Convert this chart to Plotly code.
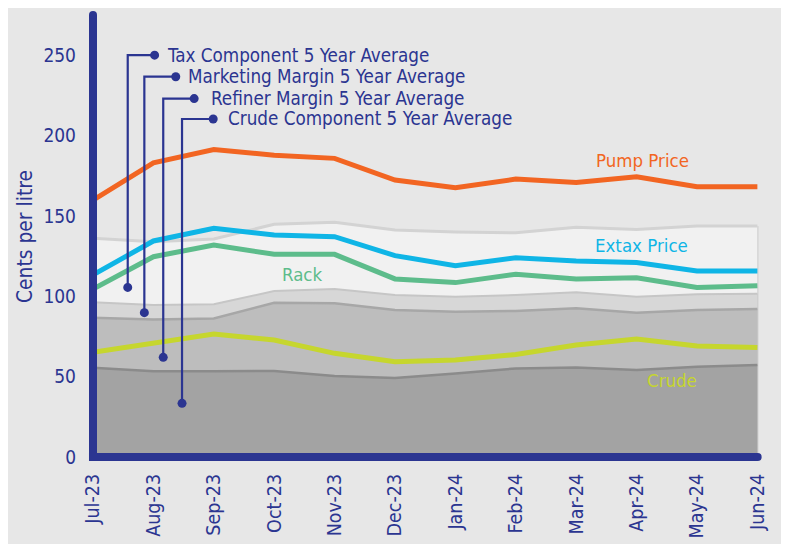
import plotly.graph_objects as go

months = ["Jul-23", "Aug-23", "Sep-23", "Oct-23", "Nov-23", "Dec-23",
          "Jan-24", "Feb-24", "Mar-24", "Apr-24", "May-24", "Jun-24"]

# 5-year average components (stacked, cents per litre)
crude_avg = [55.6, 53.3, 53.3, 53.5, 50.4, 49.1, 52.0, 55.1, 55.7, 54.1, 56.2, 57.2]
refiner_avg = [31.0, 32.3, 32.9, 42.5, 45.2, 42.4, 38.4, 35.8, 36.8, 35.7, 35.3, 34.9]
marketing_avg = [9.7, 9.0, 8.8, 7.3, 8.9, 9.3, 9.3, 9.9, 10.0, 9.9, 9.7, 9.5]
tax_avg = [39.8, 39.4, 40.7, 41.5, 41.5, 40.5, 40.3, 38.7, 40.4, 41.9, 42.5, 42.1]

# monthly price lines (cents per litre)
pump = [159.8, 183.0, 191.3, 187.8, 185.8, 172.3, 167.6, 172.9, 170.8, 174.3, 168.2, 168.2]
extax = [113.3, 134.4, 142.3, 138.1, 137.1, 125.3, 119.0, 124.0, 122.0, 121.0, 115.7, 115.7]
rack = [104.5, 124.6, 131.9, 126.1, 126.1, 110.8, 108.5, 113.7, 110.8, 111.5, 105.4, 106.6]
crude = [65.1, 70.7, 76.5, 72.8, 64.5, 59.3, 60.3, 63.8, 69.7, 73.4, 69.0, 68.2]

y_ticks = [0, 50, 100, 150, 200, 250]

NAVY = "#2b3591"
FONT = "DejaVu Sans Condensed, DejaVu Sans, sans-serif"
xs = list(range(len(months)))

fig = go.Figure()

bands = [
    ("Crude Component 5 Year Average", crude_avg, "#a3a3a3", "#8b8b8b", 2.5),
    ("Refiner Margin 5 Year Average", refiner_avg, "#bdbdbd", "#a7a7a7", 2.5),
    ("Marketing Margin 5 Year Average", marketing_avg, "#d7d7d7", "#c6c6c6", 2),
    ("Tax Component 5 Year Average", tax_avg, "#f1f1f1", "#d3d3d3", 3),
]
for name, vals, fillc, linec, lw in bands:
    fig.add_trace(go.Scatter(x=xs, y=vals, name=name, stackgroup="avg", mode="lines",
                             fillcolor=fillc, line=dict(color=linec, width=lw),
                             hoverinfo="skip"))

lines = [
    ("Crude", crude, "#c6d62e"),
    ("Rack", rack, "#5dbc8b"),
    ("Extax Price", extax, "#0fb5e6"),
    ("Pump Price", pump, "#f26522"),
]
for name, vals, col in lines:
    fig.add_trace(go.Scatter(x=xs, y=vals, name=name, mode="lines",
                             line=dict(color=col, width=5)))

shapes = []
annotations = []

# right edge of the stacked bands
band_top_last = crude_avg[-1] + refiner_avg[-1] + marketing_avg[-1] + tax_avg[-1]
shapes.append(dict(type="line", xref="x", yref="y", x0=xs[-1], x1=xs[-1], y0=0,
                   y1=band_top_last, line=dict(color="#cacaca", width=2), layer="below"))

# leader lines for the 5-year average labels
leaders = [
    ("Tax Component 5 Year Average", 0.575, 105.5, 1.02, 250.0, 1.2),
    ("Marketing Margin 5 Year Average", 0.85, 89.8, 1.37, 236.6, 1.545),
    ("Refiner Margin 5 Year Average", 1.163, 62.0, 1.675, 223.0, 1.915),
    ("Crude Component 5 Year Average", 1.474, 33.4, 1.99, 210.3, 2.205),
]
for text, vx, ybot, dx, ytop, tx in leaders:
    shapes.append(dict(type="path", xref="x", yref="y",
                       path=f"M {vx},{ybot} L {vx},{ytop} L {dx},{ytop}",
                       line=dict(color=NAVY, width=2.2), layer="above"))
    for cx, cy in [(vx, ybot), (dx, ytop)]:
        shapes.append(dict(type="circle", xref="x", yref="y",
                           xsizemode="pixel", ysizemode="pixel",
                           xanchor=cx, yanchor=cy, x0=-4.5, x1=4.5, y0=-4.5, y1=4.5,
                           fillcolor=NAVY, line=dict(width=0), layer="above"))
    annotations.append(dict(x=tx, y=ytop, xref="x", yref="y", text=text,
                            showarrow=False, xanchor="left", yanchor="middle",
                            font=dict(family=FONT, size=18.7, color=NAVY)))

# series labels
for text, x, y, col in [("Pump Price", 9.09, 184.4, "#f26522"),
                        ("Extax Price", 9.08, 131.3, "#0fb5e6"),
                        ("Rack", 3.47, 113.3, "#5dbc8b"),
                        ("Crude", 9.59, 47.3, "#c6d62e")]:
    annotations.append(dict(x=x, y=y, xref="x", yref="y", text=text, showarrow=False,
                            xanchor="center", yanchor="middle",
                            font=dict(family=FONT, size=18.5, color=col)))

annotations.append(dict(x=-0.1018, y=0.5, xref="paper", yref="paper",
                        text="Cents per litre", textangle=-90, showarrow=False,
                        xanchor="center", yanchor="middle",
                        font=dict(family=FONT, size=20.8, color=NAVY)))

# axis lines (thick navy with rounded ends)
shapes.append(dict(type="line", xref="paper", yref="paper", x0=-0.006, x1=0.995,
                   y0=0, y1=0, line=dict(color=NAVY, width=8), layer="above"))
shapes.append(dict(type="line", xref="paper", yref="paper", x0=0, x1=0,
                   y0=-0.009, y1=1.0, line=dict(color=NAVY, width=8), layer="above"))
for ax_, ay_ in [(0.995, 0.0), (0.0, 1.0)]:
    shapes.append(dict(type="circle", xref="paper", yref="paper",
                       xsizemode="pixel", ysizemode="pixel",
                       xanchor=ax_, yanchor=ay_, x0=-4, x1=4, y0=-4, y1=4,
                       fillcolor=NAVY, line=dict(width=0), layer="above"))

# white page edge on the right
shapes.append(dict(type="rect", xref="paper", yref="paper", x0=1.0329, x1=1.06,
                   y0=-0.25, y1=1.05, fillcolor="white", line=dict(width=0), layer="below"))

fig.update_layout(
    width=781, height=536,
    margin=dict(l=85, r=28, t=7, b=87),
    paper_bgcolor="#e7e7e7", plot_bgcolor="#e7e7e7",
    showlegend=False,
    shapes=shapes, annotations=annotations,
    xaxis=dict(range=[0, 11.06], tickvals=xs, ticktext=months, tickangle=-90,
               showgrid=False, zeroline=False, showline=False, ticks="",
               ticklabelstandoff=12,
               tickfont=dict(family=FONT, size=19.5, color=NAVY)),
    yaxis=dict(range=[0, 275], tickvals=y_ticks, showgrid=False, zeroline=False,
               showline=False, ticks="", ticklabelstandoff=16,
               tickfont=dict(family=FONT, size=19, color=NAVY)),
)

fig.write_html("out.html")
